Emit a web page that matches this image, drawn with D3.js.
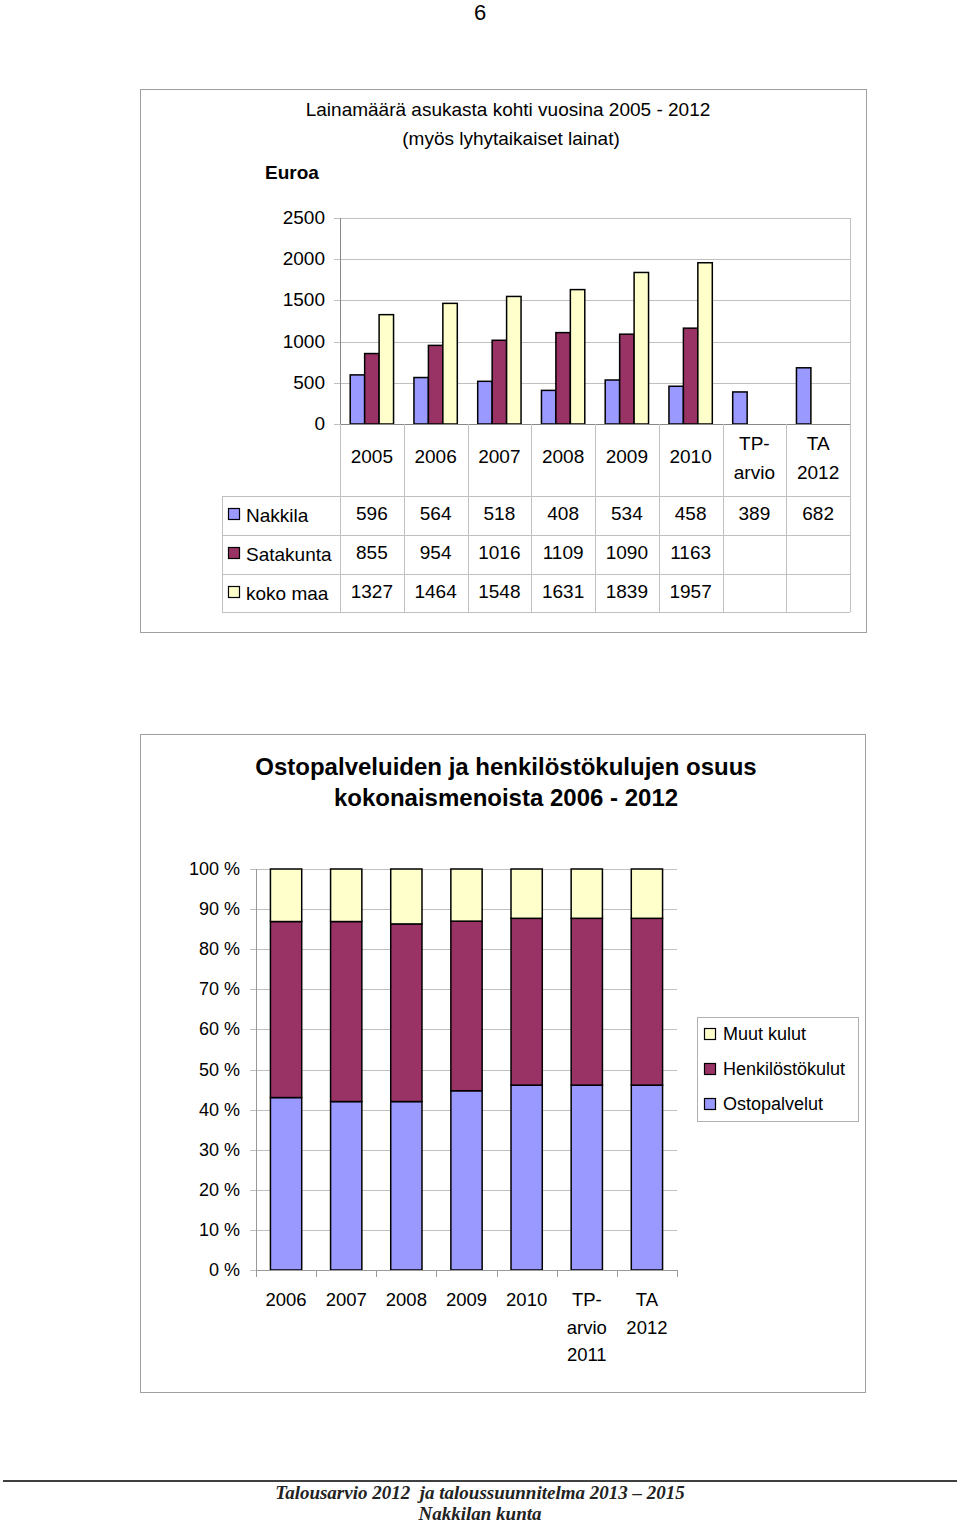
<!DOCTYPE html>
<html><head><meta charset="utf-8">
<script src="https://cdn.jsdelivr.net/npm/d3@7"></script>
<style>body{margin:0;background:#fff}svg{display:block}text{font-family:"Liberation Sans",Arial,sans-serif;fill:#000}</style>
</head><body>
<script>
// ---- Chart 1 data ----
const loanCategories = [["2005"],["2006"],["2007"],["2008"],["2009"],["2010"],["TP-","arvio"],["TA","2012"]];
const loanSeriesNames = ["Nakkila","Satakunta","koko maa"];
const nakkila   = [596,564,518,408,534,458,389,682];
const satakunta = [855,954,1016,1109,1090,1163,null,null];
const kokoMaa   = [1327,1464,1548,1631,1839,1957,null,null];
const loanTicks = [0,500,1000,1500,2000,2500];

// ---- Chart 2 data ----
const shareCategories = [["2006"],["2007"],["2008"],["2009"],["2010"],["TP-","arvio","2011"],["TA","2012"]];
const ostopalvelut    = [43.0,42.0,42.0,44.7,46.1,46.1,46.1];
const henkilostokulut = [43.9,44.9,44.3,42.3,41.6,41.6,41.6];
const muutKulut       = [13.1,13.1,13.7,13.0,12.3,12.3,12.3];
const shareSeriesNames = ["Ostopalvelut","Henkilöstökulut","Muut kulut"];
const shareTicks = [0,10,20,30,40,50,60,70,80,90,100];

const colors = ["#9999ff","#993366","#ffffcc"];
const gridCol = "#c0c0c0";

const svg = d3.select("body").append("svg").attr("width",960).attr("height",1524);

// page number
svg.append("text").attr("x",480).attr("y",20).attr("text-anchor","middle").style("font-size","22px").text("6");

// ===== Chart 1 =====
svg.append("rect").attr("x",140.5).attr("y",89.5).attr("width",726).attr("height",543)
  .attr("fill","#fff").attr("stroke","#a0a0a0");
svg.append("text").attr("x",508).attr("y",116).attr("text-anchor","middle").style("font-size","19px")
  .text("Lainamäärä asukasta kohti vuosina 2005 - 2012");
svg.append("text").attr("x",511).attr("y",145).attr("text-anchor","middle").style("font-size","19px")
  .text("(myös lyhytaikaiset lainat)");
svg.append("text").attr("x",265).attr("y",179).style("font-size","19px").style("font-weight","bold").text("Euroa");

const x1 = d3.scaleBand().domain(d3.range(loanCategories.length)).range([340,850]);
const y1 = d3.scaleLinear().domain([0,2500]).range([424,218]);
const bw1 = x1.bandwidth();
const xs = d3.scaleBand().domain(d3.range(3)).range([0,bw1*0.68]);
const off = (bw1 - bw1*0.68)/2;

// gridlines
svg.append("g").selectAll("line").data(loanTicks).join("line")
  .attr("x1",334).attr("x2",850).attr("y1",d=>Math.round(y1(d))+0.5).attr("y2",d=>Math.round(y1(d))+0.5)
  .attr("stroke",gridCol);
svg.append("line").attr("x1",850.5).attr("x2",850.5).attr("y1",218).attr("y2",424).attr("stroke",gridCol);
svg.append("line").attr("x1",340.5).attr("x2",340.5).attr("y1",218).attr("y2",424).attr("stroke","#888");
svg.append("g").selectAll("text").data(loanTicks).join("text")
  .attr("x",325).attr("y",d=>y1(d)+6).attr("text-anchor","end").style("font-size","19px").text(d=>d);

const loanSeries = [nakkila,satakunta,kokoMaa];
loanSeries.forEach((vals,si)=>{
  svg.append("g").selectAll("rect").data(vals.map((v,i)=>({v,i})).filter(d=>d.v!=null)).join("rect")
    .attr("x",d=>x1(d.i)+off+xs(si)).attr("width",xs.bandwidth())
    .attr("y",d=>y1(d.v)).attr("height",d=>y1(0)-y1(d.v))
    .attr("fill",colors[si]).attr("stroke","#000").attr("stroke-width",1.5);
});
svg.append("line").attr("x1",340).attr("x2",850).attr("y1",424.5).attr("y2",424.5).attr("stroke","#888");

// table grid
const rowY = [496,535,574,612];
svg.append("g").selectAll("line").data(rowY).join("line")
  .attr("x1",222).attr("x2",850).attr("y1",d=>d+0.5).attr("y2",d=>d+0.5).attr("stroke",gridCol);
const colX = d3.range(loanCategories.length+1).map(i=>340 + i*bw1);
svg.append("g").selectAll("line").data(colX).join("line")
  .attr("x1",d=>Math.round(d)+0.5).attr("x2",d=>Math.round(d)+0.5).attr("y1",424).attr("y2",612).attr("stroke",gridCol);
svg.append("line").attr("x1",222.5).attr("x2",222.5).attr("y1",496).attr("y2",612).attr("stroke",gridCol);

// category labels
loanCategories.forEach((lines,i)=>{
  const cx = x1(i)+bw1/2;
  const startY = lines.length===1 ? 463 : 450;
  lines.forEach((t,j)=>{
    svg.append("text").attr("x",cx).attr("y",startY+j*29).attr("text-anchor","middle").style("font-size","19px").text(t);
  });
});
// table rows
loanSeries.forEach((vals,si)=>{
  const cy = rowY[si] + 26;
  svg.append("rect").attr("x",228.5).attr("y",cy-13.5).attr("width",11).attr("height",11)
    .attr("fill",colors[si]).attr("stroke","#000").attr("stroke-width",1.2);
  svg.append("text").attr("x",246).attr("y",cy).style("font-size","19px").text(loanSeriesNames[si]);
  vals.forEach((v,i)=>{
    if(v==null) return;
    svg.append("text").attr("x",x1(i)+bw1/2).attr("y",cy-2).attr("text-anchor","middle").style("font-size","19px").text(v);
  });
});

// ===== Chart 2 =====
svg.append("rect").attr("x",140.5).attr("y",734.5).attr("width",725).attr("height",658)
  .attr("fill","#fff").attr("stroke","#a0a0a0");
svg.append("text").attr("x",506).attr("y",775).attr("text-anchor","middle").style("font-size","24px").style("font-weight","bold")
  .text("Ostopalveluiden ja henkilöstökulujen osuus");
svg.append("text").attr("x",506).attr("y",806).attr("text-anchor","middle").style("font-size","24px").style("font-weight","bold")
  .text("kokonaismenoista 2006 - 2012");

const x2 = d3.scaleBand().domain(d3.range(shareCategories.length)).range([256,677]);
const y2 = d3.scaleLinear().domain([0,100]).range([1270,869]);
const bw2 = x2.bandwidth();
const barW = bw2*0.52;

svg.append("g").selectAll("line").data(shareTicks).join("line")
  .attr("x1",250).attr("x2",677).attr("y1",d=>Math.round(y2(d))+0.5).attr("y2",d=>Math.round(y2(d))+0.5)
  .attr("stroke",gridCol);
svg.append("line").attr("x1",256.5).attr("x2",256.5).attr("y1",869).attr("y2",1270).attr("stroke","#999");
svg.append("g").selectAll("line").data(d3.range(shareCategories.length+1)).join("line")
  .attr("x1",d=>Math.round(256+d*bw2)+0.5).attr("x2",d=>Math.round(256+d*bw2)+0.5)
  .attr("y1",1270).attr("y2",1277).attr("stroke","#999");
svg.append("g").selectAll("text").data(shareTicks).join("text")
  .attr("x",240).attr("y",d=>y2(d)+6).attr("text-anchor","end").style("font-size","18px").text(d=>d+" %");

const stackData = shareCategories.map((c,i)=>({i, s0:ostopalvelut[i], s1:henkilostokulut[i], s2:muutKulut[i]}));
const stacked = d3.stack().keys(["s0","s1","s2"])(stackData);
stacked.forEach((layer,si)=>{
  svg.append("g").selectAll("rect").data(layer).join("rect")
    .attr("x",d=>x2(d.data.i)+(bw2-barW)/2).attr("width",barW)
    .attr("y",d=>y2(d[1])).attr("height",d=>y2(d[0])-y2(d[1]))
    .attr("fill",colors[si]).attr("stroke","#000").attr("stroke-width",1.5);
});
svg.append("line").attr("x1",256).attr("x2",677).attr("y1",1270.5).attr("y2",1270.5).attr("stroke","#999");

shareCategories.forEach((lines,i)=>{
  const cx = x2(i)+bw2/2;
  lines.forEach((t,j)=>{
    svg.append("text").attr("x",cx).attr("y",1306+j*27.5).attr("text-anchor","middle").style("font-size","18.5px").text(t);
  });
});

// legend
svg.append("rect").attr("x",697.5).attr("y",1017.5).attr("width",161).attr("height",104)
  .attr("fill","#fff").attr("stroke","#b0b0b0");
[2,1,0].forEach((si,k)=>{
  const cy = 1034 + k*35;
  svg.append("rect").attr("x",704.5).attr("y",cy-5.5).attr("width",11).attr("height",11)
    .attr("fill",colors[si]).attr("stroke","#000").attr("stroke-width",1.2);
  svg.append("text").attr("x",723).attr("y",cy+6).style("font-size","18px").text(shareSeriesNames[si]);
});

// footer
svg.append("line").attr("x1",3).attr("x2",957).attr("y1",1481).attr("y2",1481).attr("stroke","#000").attr("stroke-width",1.5);
svg.append("text").attr("x",480).attr("y",1499).attr("text-anchor","middle")
  .style("font-family","'Liberation Serif','Times New Roman',serif").style("font-style","italic").style("font-weight","bold")
  .style("font-size","19px").style("fill","#222")
  .text("Talousarvio 2012  ja taloussuunnitelma 2013 – 2015").attr("xml:space","preserve").style("white-space","pre");
svg.append("text").attr("x",480).attr("y",1520).attr("text-anchor","middle")
  .style("font-family","'Liberation Serif','Times New Roman',serif").style("font-style","italic").style("font-weight","bold")
  .style("font-size","19px").style("fill","#222")
  .text("Nakkilan kunta");
</script>
</body></html>
